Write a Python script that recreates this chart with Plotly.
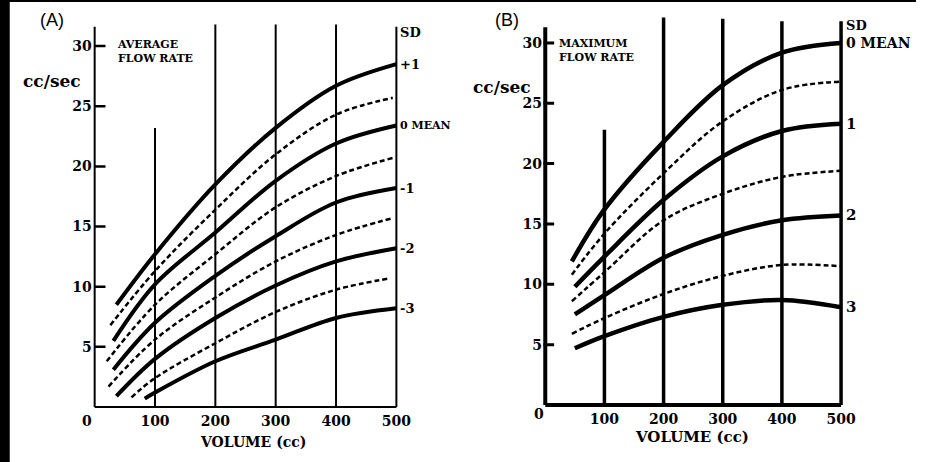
import plotly.graph_objects as go

W, H = 929, 462

# ---------------- Panel A : average flow rate ----------------
a_solid_names = ["+1", "0 MEAN", "-1", "-2", "-3"]
a_solid_x = [
    [36, 100, 200, 300, 400, 500],
    [31, 100, 200, 300, 400, 500],
    [31, 100, 200, 300, 400, 500],
    [36, 100, 200, 300, 400, 500],
    [83, 100, 200, 300, 400, 500],
]
a_solid_y = [
    [8.5, 12.7, 18.5, 23.2, 26.7, 28.5],
    [5.5, 10.2, 14.5, 18.8, 21.9, 23.4],
    [3.1, 7.0, 10.9, 14.2, 17.0, 18.2],
    [0.9, 4.0, 7.4, 10.1, 12.1, 13.2],
    [0.7, 1.2, 3.8, 5.6, 7.4, 8.2],
]
a_dash_x = [
    [26, 100, 200, 300, 400, 494],
    [20, 100, 200, 300, 400, 494],
    [23, 100, 200, 300, 400, 494],
    [61, 100, 200, 300, 400, 490],
]
a_dash_y = [
    [6.8, 11.3, 16.4, 21.0, 24.3, 25.7],
    [3.8, 8.5, 12.7, 16.6, 19.2, 20.7],
    [1.7, 5.6, 9.1, 12.1, 14.3, 15.7],
    [0.8, 2.4, 5.3, 7.9, 9.75, 10.7],
]
a_vline_x = [100, 200, 300, 400, 500]
a_vline_top = [23.2, 31.8, 31.8, 31.8, 31.6]
a_yaxis_top = 31.6

# ---------------- Panel B : maximum flow rate ----------------
b_solid_names = ["0 MEAN", "1", "2", "3"]
b_solid_x = [
    [45, 100, 200, 300, 400, 500],
    [50, 100, 200, 300, 400, 500],
    [50, 100, 200, 300, 400, 500],
    [50, 100, 200, 300, 400, 500],
]
b_solid_y = [
    [11.9, 16.2, 21.8, 26.5, 29.2, 30.0],
    [9.8, 12.3, 17.0, 20.6, 22.7, 23.3],
    [7.5, 9.1, 12.2, 14.1, 15.3, 15.7],
    [4.7, 5.7, 7.3, 8.3, 8.7, 8.1],
]
b_dash_x = [
    [45, 100, 200, 300, 400, 500],
    [45, 100, 200, 300, 400, 500],
    [45, 100, 200, 300, 400, 500],
]
b_dash_y = [
    [10.8, 14.2, 19.2, 23.5, 26.1, 26.8],
    [8.6, 11.0, 15.3, 17.5, 18.9, 19.4],
    [5.9, 7.2, 9.2, 10.7, 11.6, 11.5],
]
b_vline_x = [100, 200, 300, 400, 500]
b_vline_top = [22.8, 32.1, 32.0, 31.8, 31.8]
b_yaxis_top = 31.3

y_ticks = [5, 10, 15, 20, 25, 30]
x_ticks = [100, 200, 300, 400, 500]

SERIF = "DejaVu Serif"

fig = go.Figure()

def seg(xr, yr, xs, ys, w):
    fig.add_trace(go.Scatter(x=xs, y=ys, mode="lines", xaxis=xr, yaxis=yr,
                             line=dict(color="black", width=w), showlegend=False, hoverinfo="skip"))

def add_panel(xr, yr, sx, sy, dx, dy, vx, vtop, ytop, solid_w, dash_w, vline_w, axis_w, tick_x0, tick_x1, tick_w):
    for t in y_ticks:
        seg(xr, yr, [tick_x0, tick_x1], [t, t], tick_w)
    for x, y in zip(vx, vtop):
        seg(xr, yr, [x, x], [0, y], vline_w)
    seg(xr, yr, [0, 0], [0, ytop], axis_w)
    seg(xr, yr, [0, 500], [0, 0], axis_w)
    for x, y in zip(dx, dy):
        fig.add_trace(go.Scatter(x=x, y=y, mode="lines", xaxis=xr, yaxis=yr,
                                 line=dict(color="black", width=dash_w, dash="5px,3px", shape="spline"),
                                 showlegend=False, hoverinfo="skip"))
    for x, y in zip(sx, sy):
        fig.add_trace(go.Scatter(x=x, y=y, mode="lines", xaxis=xr, yaxis=yr,
                                 line=dict(color="black", width=solid_w, shape="spline"),
                                 showlegend=False, hoverinfo="skip"))

add_panel("x", "y", a_solid_x, a_solid_y, a_dash_x, a_dash_y,
          a_vline_x, a_vline_top, a_yaxis_top, 4, 2.5, 2, 2, 0, 18, 2.5)
add_panel("x2", "y2", b_solid_x, b_solid_y, b_dash_x, b_dash_y,
          b_vline_x, b_vline_top, b_yaxis_top, 4.5, 2.5, 3.5, 4, -3, 15, 3)

# black scan border (left strip and top line), drawn as filled boxes on hidden helper axes
for xr, yr in [("x3", "y3"), ("x4", "y4")]:
    fig.add_trace(go.Scatter(x=[0, 1, 1, 0, 0], y=[0, 0, 1, 1, 0], mode="lines", fill="toself",
                             fillcolor="black", line=dict(color="black", width=0),
                             xaxis=xr, yaxis=yr, showlegend=False, hoverinfo="skip"))

def dom_x(px0, ppu, r):
    return [(px0 + r[0] * ppu) / W, (px0 + r[1] * ppu) / W]

def dom_y(py0, ppu, r):
    return [1 - (py0 - r[0] * ppu) / H, 1 - (py0 - r[1] * ppu) / H]

a_xr, a_yr = [-3, 503], [-0.3, 32.2]
b_xr, b_yr = [-4, 504], [-0.35, 32.6]

tickfont = dict(family=SERIF, size=14, color="black")
common_x = dict(tickvals=x_ticks, ticktext=[f"<b>{v}</b>" for v in x_ticks], showgrid=False, zeroline=False,
                showline=False, ticks="", tickfont=tickfont)
common_y = dict(tickvals=y_ticks, ticktext=[f"<b>{v}</b>" for v in y_ticks], showgrid=False, zeroline=False,
                showline=False, tickfont=tickfont, ticks="")
hidden = dict(range=[0, 1], visible=False, showgrid=False, zeroline=False)

ann = []
def ptxt(text, px, py, size, family=SERIF, bold=True, xanchor="center", yanchor="middle", align="center"):
    t = f"<b>{text}</b>" if bold else text
    ann.append(dict(text=t, x=px / W, y=1 - py / H, xref="paper", yref="paper", showarrow=False,
                    xanchor=xanchor, yanchor=yanchor, align=align,
                    font=dict(family=family, size=size, color="black")))

# Panel A texts
ptxt("(A)", 39, 20, 18, family="Liberation Sans", bold=False, xanchor="left")
ptxt("cc/sec", 53, 81, 17)
ptxt("AVERAGE<br>FLOW RATE", 117, 52, 11, xanchor="left", align="left")
ptxt("SD", 404, 33, 13, xanchor="left")
ptxt("0", 88, 421, 14)
ptxt("VOLUME (cc)", 257, 442, 14)
for name, y in zip(a_solid_names, [s[-1] for s in a_solid_y]):
    ann.append(dict(text=f"<b>{name}</b>", x=500, y=y, xref="x", yref="y", showarrow=False,
                    xanchor="left", xshift=2, font=dict(family=SERIF, size=13 if "MEAN" not in name else 11, color="black")))

# Panel B texts
ptxt("(B)", 500, 20, 18, family="Liberation Sans", bold=False, xanchor="left")
ptxt("cc/sec", 509, 87, 17)
ptxt("MAXIMUM<br>FLOW RATE", 565, 50, 11, xanchor="left", align="left")
ptxt("SD", 856, 25, 13, xanchor="left")
ptxt("0", 547, 414, 14)
ptxt("VOLUME (cc)", 702, 437, 15)
for name, y in zip(b_solid_names, [s[-1] for s in b_solid_y]):
    ann.append(dict(text=f"<b>{name}</b>", x=500, y=y, xref="x2", yref="y2", showarrow=False,
                    xanchor="left", xshift=3, font=dict(family=SERIF, size=15 if "MEAN" not in name else 14, color="black")))

fig.update_layout(
    width=W, height=H, margin=dict(l=0, r=0, t=0, b=0),
    paper_bgcolor="white", plot_bgcolor="rgba(0,0,0,0)",
    xaxis=dict(domain=dom_x(96, 0.612, a_xr), range=a_xr, anchor="y", **common_x),
    yaxis=dict(domain=dom_y(407, 12.03, a_yr), range=a_yr, anchor="x", **common_y),
    xaxis2=dict(domain=dom_x(553, 0.6, b_xr), range=b_xr, anchor="y2", **common_x),
    yaxis2=dict(domain=dom_y(405, 12.07, b_yr), range=b_yr, anchor="x2", **common_y),
    xaxis3=dict(domain=[0, 10 / W], anchor="y3", **hidden),
    yaxis3=dict(domain=[0, 1], anchor="x3", **hidden),
    xaxis4=dict(domain=[0, 1], anchor="y4", **hidden),
    yaxis4=dict(domain=[1 - 2 / H, 1], anchor="x4", **hidden),
    annotations=ann,
)

fig.write_html("out.html")
